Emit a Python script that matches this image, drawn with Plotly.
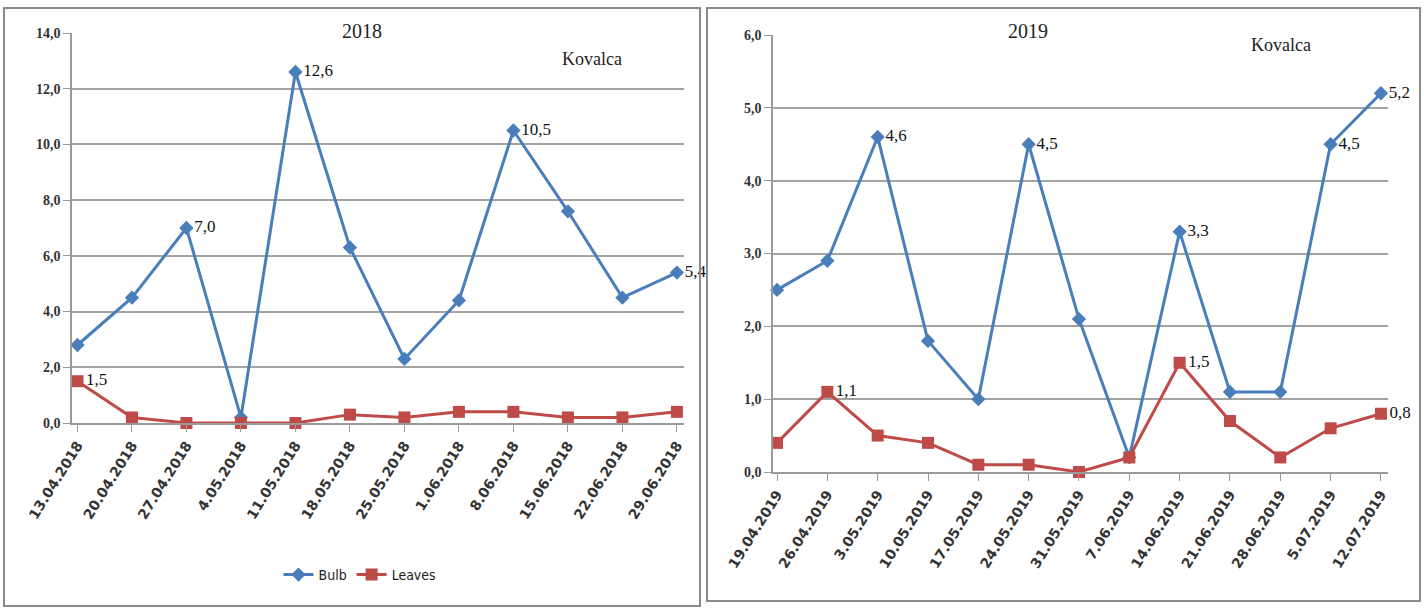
import plotly.graph_objects as go

# ---------------- data ----------------
dates_2018 = ["13.04.2018", "20.04.2018", "27.04.2018", "4.05.2018", "11.05.2018", "18.05.2018",
              "25.05.2018", "1.06.2018", "8.06.2018", "15.06.2018", "22.06.2018", "29.06.2018"]
bulb_2018 = [2.8, 4.5, 7.0, 0.2, 12.6, 6.3, 2.3, 4.4, 10.5, 7.6, 4.5, 5.4]
leaves_2018 = [1.5, 0.2, 0.0, 0.0, 0.0, 0.3, 0.2, 0.4, 0.4, 0.2, 0.2, 0.4]
bulb_2018_labeled = [2, 4, 8, 11]
leaves_2018_labeled = [0]

dates_2019 = ["19.04.2019", "26.04.2019", "3.05.2019", "10.05.2019", "17.05.2019", "24.05.2019",
              "31.05.2019", "7.06.2019", "14.06.2019", "21.06.2019", "28.06.2019", "5.07.2019", "12.07.2019"]
bulb_2019 = [2.5, 2.9, 4.6, 1.8, 1.0, 4.5, 2.1, 0.2, 3.3, 1.1, 1.1, 4.5, 5.2]
leaves_2019 = [0.4, 1.1, 0.5, 0.4, 0.1, 0.1, 0.0, 0.2, 1.5, 0.7, 0.2, 0.6, 0.8]
bulb_2019_labeled = [2, 5, 8, 11, 12]
leaves_2019_labeled = [1, 8, 12]

BLUE = "#4A7EBB"
RED = "#BE4B48"
SERIF = "Liberation Serif, Times New Roman, serif"
SANS = "DejaVu Sans, sans-serif"
COND = "DejaVu Sans Condensed, DejaVu Sans, sans-serif"


def labels(vals, idx):
    return [f"{v:.1f}".replace(".", ",") if i in idx else "" for i, v in enumerate(vals)]


fig = go.Figure()


def add_series(x, y, idx, name, color, symbol, size, xa, ya, show):
    fig.add_trace(go.Scatter(
        x=x, y=y, name=name, mode="lines+markers+text",
        line=dict(color=color, width=3),
        marker=dict(symbol=symbol, size=size, color=color),
        text=labels(y, idx), textposition="middle right",
        textfont=dict(family=SERIF, size=17, color="#111"),
        cliponaxis=False, xaxis=xa, yaxis=ya, showlegend=show))


add_series(dates_2018, bulb_2018, bulb_2018_labeled, "Bulb", BLUE, "diamond", 11, "x", "y", True)
add_series(dates_2018, leaves_2018, leaves_2018_labeled, "Leaves", RED, "square", 12, "x", "y", True)
add_series(dates_2019, bulb_2019, bulb_2019_labeled, "Bulb", BLUE, "diamond", 11, "x2", "y2", False)
add_series(dates_2019, leaves_2019, leaves_2019_labeled, "Leaves", RED, "square", 12, "x2", "y2", False)

W, H = 1424, 612


def px(v):
    return v / W


def py(v):
    return 1 - v / H


common_x = dict(type="category", tickangle=-58, automargin=False,
                tickfont=dict(family=SANS, size=14, color="#333", weight="bold"),
                showline=True, linecolor="#9a9a9a", linewidth=1.5, ticks="outside",
                tickcolor="#9a9a9a", ticklen=7, showgrid=False, zeroline=False)
common_y = dict(tickformat=".1f", automargin=False,
                tickfont=dict(family=SERIF, size=14, color="#333", weight="bold"),
                showline=True, linecolor="#9a9a9a",
                linewidth=1.5, ticks="outside", tickcolor="#9a9a9a", ticklen=7,
                gridcolor="#a3a3a3", gridwidth=2, zeroline=False)

fig.update_layout(
    width=W, height=H, margin=dict(l=0, r=0, t=0, b=0, autoexpand=False),
    paper_bgcolor="white", plot_bgcolor="white",
    separators=",.",
    xaxis=dict(domain=[px(72), px(684)], range=[-0.1, 11.13], anchor="y", **common_x),
    yaxis=dict(domain=[py(423), py(33)], range=[0, 14], dtick=2, anchor="x", **common_y),
    xaxis2=dict(domain=[px(773), px(1388)], range=[-0.08, 12.14], anchor="y2", **common_x),
    yaxis2=dict(domain=[py(472), py(35)], range=[0, 6], dtick=1, anchor="x2", **common_y),
    legend=dict(orientation="h", x=px(360), xanchor="center", y=py(575), yanchor="middle",
                font=dict(family=COND, size=14, color="#222"), bgcolor="rgba(0,0,0,0)"),
    shapes=[
        dict(type="rect", xref="paper", yref="paper", x0=px(4), x1=px(700), y0=py(606), y1=py(8),
             line=dict(color="#8a8a8a", width=2)),
        dict(type="rect", xref="paper", yref="paper", x0=px(707), x1=px(1420), y0=py(601), y1=py(8),
             line=dict(color="#8a8a8a", width=2)),
    ],
    annotations=[
        dict(text="2018", x=px(340), y=py(18), xref="paper", yref="paper", showarrow=False,
             font=dict(family=SERIF, size=20, color="#222")),
        dict(text="Kovalca", x=px(592), y=py(47), xref="paper", yref="paper", showarrow=False,
             font=dict(family=SERIF, size=18, color="#222")),
        dict(text="2019", x=px(1050), y=py(18), xref="paper", yref="paper", showarrow=False,
             font=dict(family=SERIF, size=20, color="#222")),
        dict(text="Kovalca", x=px(1313), y=py(33), xref="paper", yref="paper", showarrow=False,
             font=dict(family=SERIF, size=18, color="#222")),
    ],
)

fig.write_html("out.html")
